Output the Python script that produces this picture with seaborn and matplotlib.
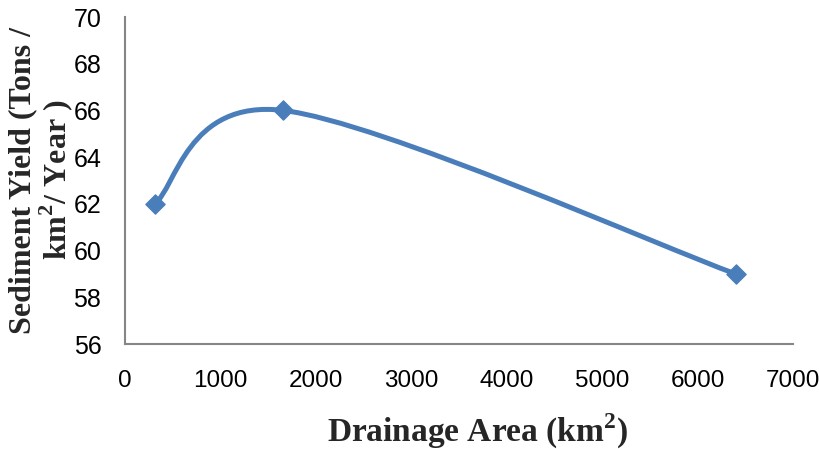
import numpy as np
import matplotlib
matplotlib.use("Agg")
import matplotlib.pyplot as plt
from matplotlib.path import Path
from matplotlib.patches import PathPatch
import seaborn as sns

# Data
drainage_area = [310, 1660, 6400]      # km2
sediment_yield = [62, 66, 59]          # Tons / km2 / Year
x_ticks = [0, 1000, 2000, 3000, 4000, 5000, 6000, 7000]
y_ticks = [56, 58, 60, 62, 64, 66, 68, 70]

line_color = '#4A7EBB'
axis_color = '#868686'

sns.set_style("white")
plt.rcParams['font.family'] = ['Liberation Sans Narrow', 'Liberation Sans', 'DejaVu Sans']
plt.rcParams['mathtext.fontset'] = 'custom'
plt.rcParams['mathtext.bf'] = 'Liberation Serif:bold'
plt.rcParams['mathtext.rm'] = 'Liberation Serif:bold'

fig = plt.figure(figsize=(8.19, 4.49), dpi=100)
ax = fig.add_axes([125 / 819, 1 - 344 / 449, 668 / 819, 327 / 449])
ax.set_xlim(x_ticks[0], x_ticks[-1])
ax.set_ylim(y_ticks[0], y_ticks[-1])


def smooth_path(xs, ys):
    # Excel-style smoothed line: cubic Bezier segments (Catmull-Rom tangents)
    pts = np.column_stack([xs, ys]).astype(float)
    ext = np.vstack([pts[0], pts, pts[-1]])
    verts = [pts[0]]
    codes = [Path.MOVETO]
    for i in range(len(pts) - 1):
        p0, p1, p2, p3 = ext[i], ext[i + 1], ext[i + 2], ext[i + 3]
        verts += [p1 + (p2 - p0) / 6, p2 - (p3 - p1) / 6, p2]
        codes += [Path.CURVE4] * 3
    return Path(verts, codes)


ax.add_patch(PathPatch(smooth_path(drainage_area, sediment_yield), facecolor='none',
                       edgecolor=line_color, lw=3.6, capstyle='round', zorder=2))

sns.scatterplot(x=drainage_area, y=sediment_yield, marker='D', s=95,
                color=line_color, edgecolor=line_color, linewidth=1, ax=ax, zorder=3)

ax.set_xticks(x_ticks)
ax.set_yticks(y_ticks)
ax.tick_params(axis='x', direction='out', length=5, width=1.4, color=axis_color,
               pad=14, labelsize=17.5, labelcolor='black')
ax.tick_params(axis='y', direction='out', length=6, width=1.4, color=axis_color,
               pad=11, labelsize=18, labelcolor='black')

for side in ['top', 'right']:
    ax.spines[side].set_visible(False)
for side in ['left', 'bottom']:
    ax.spines[side].set_color(axis_color)
    ax.spines[side].set_linewidth(1.5)

fig.text(477 / 819, 1 - 431 / 449, r'Drainage Area (km$^{\mathbf{2}}$)', ha='center', va='center',
         fontsize=24, fontweight='bold', family='Liberation Serif')
fig.text(42 / 819, 1 - 180 / 449, 'Sediment Yield (Tons /\n' + r'km$^{\mathbf{2}}$/ Year )',
         rotation=90, ha='center', va='center', multialignment='center', linespacing=1.0,
         fontsize=23, fontweight='bold', family='Liberation Serif')

fig.savefig('out.png', dpi=100)
